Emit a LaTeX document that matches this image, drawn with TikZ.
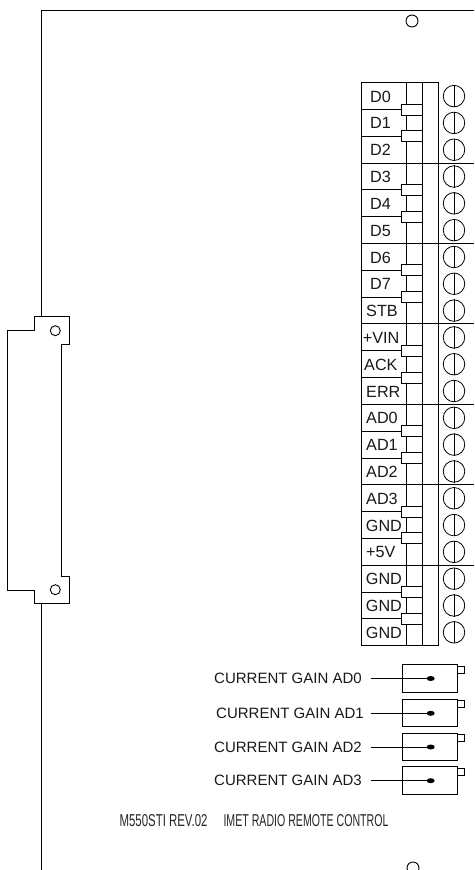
\documentclass[tikz,border=0pt]{standalone}
\usepackage{fontspec}
\setmainfont{Liberation Sans}
\usetikzlibrary{shapes.geometric}
\tikzset{x=1pt,y=-1pt,
  ln/.style={draw=black,line width=1pt},
  lbl/.style={font=\fontsize{16.2}{18}\selectfont,inner sep=0pt,text=black!90},
  clbl/.style={font=\fontsize{15}{17}\selectfont,inner sep=0pt,text=black!90},
  tabbox/.style={draw=black,line width=1pt,fill=white},
  screw/.style={circle,draw=black,line width=0.8pt,minimum size=21.5pt,inner sep=0pt},
  hole/.style={circle,draw=black,line width=0.9pt,minimum size=10pt,inner sep=0pt},
  trim/.style={draw=black,line width=1pt,fill=white},
  stick/.style={inner sep=0pt,text=black!85}}
\begin{document}
\begin{tikzpicture}
\useasboundingbox (0,0) rectangle (474,870);
% board edge and connector
\coordinate (b0) at (474,10);
\coordinate (b1) at (41.7,10);
\coordinate (b2) at (41.7,316.7);
\coordinate (b3) at (41.7,603);
\coordinate (b4) at (41.7,870);
\draw[ln] (b0) -- (b1) -- (b2);
\draw[ln] (b3) -- (b4);
\draw[ln] (34.7,316.7) -- (69,316.7) -- (69,344) -- (61.7,344) -- (61.7,576) -- (69,576) -- (69,603) -- (34.7,603) -- (34.7,590) -- (7.3,590) -- (7.3,330.7) -- (34.7,330.7) -- cycle;
\node[hole] (h1) at (55.3,330.7) {};
\node[hole] (h2) at (55.3,589.7) {};
\node[hole,minimum size=12pt] (h3) at (412,21) {};
\node[hole,minimum size=12pt] (h4) at (413,868) {};
% terminal block
\draw[ln] (361,82.7) rectangle (438.7,645.7);
\draw[ln] (406.7,82.7) -- (406.7,645.7);
\draw[ln] (422.3,82.7) -- (422.3,645.7);
\foreach \i in {1,...,20}{
  \pgfmathsetmacro{\yy}{82.7+\i*26.81}
  \pgfmathtruncatemacro{\g}{mod(\i,3)}
  \ifnum\g=0
    \draw[ln] (361,\yy) -- (474,\yy);
  \else
    \draw[ln] (361,\yy) -- (402,\yy);
    \draw[tabbox] (401.7,\yy-5.5) rectangle (422.3,\yy+5.5);
  \fi
}
\foreach \i/\t/\xc in {0/D0/370,1/D1/370,2/D2/370,3/D3/370,4/D4/370,5/D5/370,6/D6/370,7/D7/370,8/STB/366,9/+VIN/362.7,10/ACK/364,11/ERR/366,12/AD0/366,13/AD1/366,14/AD2/366,15/AD3/366,16/GND/365.7,17/+5V/366,18/GND/365.7,19/GND/365.7,20/GND/365.7}{
  \pgfmathsetmacro{\yy}{82.7+(\i+0.5)*26.81}
  \pgfmathsetmacro{\sy}{\yy+0.5}
  \node[lbl,anchor=west] (t\i) at (\xc,\sy) {\t};
  \node[screw] (s\i) at (454,\yy) {};
  \draw[line width=0.8pt] (s\i.north) -- (s\i.south);
}
% trimmers
\foreach \n/\yc/\lx in {0/678.5/214,1/713.3/216,2/747/214,3/780.7/214}{
  \node[clbl,anchor=west] (c\n) at (\lx,\yc) {CURRENT GAIN AD\n};
  \draw[trim] (402.3,\yc-14) rectangle (457.7,\yc+13.5);
  \draw[trim] (457.7,\yc-12.5) rectangle (464.5,\yc-5.5);
  \coordinate (w\n) at (371,\yc);
  \node[ellipse,fill=black,minimum width=8pt,minimum height=5pt,inner sep=0pt] (d\n) at (430.7,\yc) {};
  \draw[line width=1pt] (w\n) -- (d\n.center);
}
\node[stick,anchor=west] (n1) at (119.3,820.7) {\resizebox{88pt}{12pt}{M550STI REV.02}};
\node[stick,anchor=west] (n2) at (223.3,820.7) {\resizebox{165pt}{12pt}{IMET RADIO REMOTE CONTROL}};
\end{tikzpicture}
\end{document}
